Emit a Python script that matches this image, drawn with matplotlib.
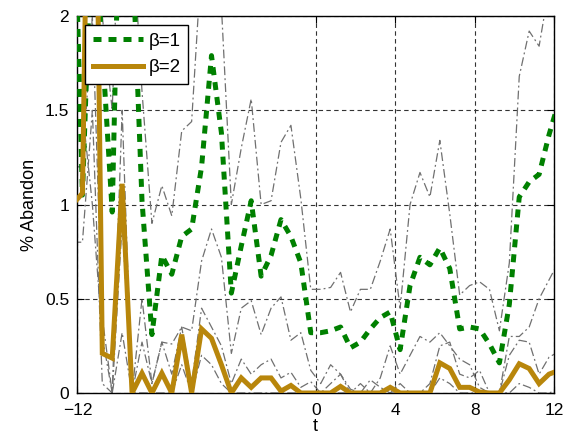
import numpy as np
import matplotlib
matplotlib.use("Agg")
import matplotlib.pyplot as plt

plt.rcParams['font.family'] = ['Liberation Sans', 'DejaVu Sans']

# time grid (points lie on quarter offsets; end points fall outside the axis)
t = [-12.25 + 0.5 * k for k in range(50)]

beta1 = [3.0, 1.05, 2.6, 1.83, 0.96, 3.3, 2.4, 1.02, 0.31, 0.73,
         0.63, 0.83, 0.87, 1.2, 1.79, 1.38, 0.53, 0.78, 1.02, 0.62,
         0.73, 0.92, 0.83, 0.69, 0.32, 0.32, 0.33, 0.35, 0.24, 0.27,
         0.34, 0.40, 0.43, 0.23, 0.57, 0.72, 0.68, 0.77, 0.66, 0.34,
         0.35, 0.34, 0.26, 0.16, 0.47, 1.04, 1.12, 1.16, 1.37, 1.55]

beta2 = [1.0, 1.06, 4.5, 0.21, 0.185, 1.11, 0.0, 0.105, 0.0, 0.105,
         0.0, 0.31, 0.0, 0.34, 0.29, 0.15, 0.0, 0.08, 0.03, 0.08,
         0.08, 0.01, 0.04, 0.0, 0.0, 0.0, 0.0, 0.035, 0.0, 0.0,
         0.0, 0.0, 0.03, 0.0, 0.0, 0.0, 0.0, 0.16, 0.13, 0.03,
         0.03, 0.005, 0.0, 0.0, 0.07, 0.155, 0.13, 0.05, 0.1, 0.12]

upper1 = [2.8, 2.8, 2.8, 2.0, 1.5, 3.0, 2.5, 1.6, 0.9, 1.1,
          0.94, 1.39, 1.44, 2.3, 2.6, 2.05, 1.0, 1.3, 1.56, 1.0,
          1.02, 1.33, 1.42, 1.03, 0.55, 0.55, 0.56, 0.64, 0.43, 0.55,
          0.55, 0.7, 0.87, 0.45, 1.0, 1.17, 1.04, 1.34, 0.95, 0.52,
          0.57, 0.59, 0.55, 0.33, 0.69, 1.68, 1.92, 1.84, 2.15, 2.4]

lower1 = [1.5, 1.5, 1.0, 0.3, 0.0, 1.5, 0.0, 0.5, 0.05, 0.27,
          0.26, 0.35, 0.33, 0.7, 0.87, 0.72, 0.21, 0.45, 0.49, 0.31,
          0.45, 0.51, 0.28, 0.32, 0.12, 0.05, 0.15, 0.1, 0.0, 0.05,
          0.0, 0.08, 0.25, 0.1, 0.2, 0.3, 0.27, 0.32, 0.25, 0.18,
          0.15, 0.03, 0.0, 0.0, 0.3, 0.3, 0.35, 0.5, 0.6, 0.7]

upper2 = [1.2, 1.2, 2.0, 0.4, 0.0, 0.32, 0.0, 0.27, 0.05, 0.27,
          0.1, 0.35, 0.05, 0.45, 0.35, 0.25, 0.05, 0.18, 0.1, 0.15,
          0.18, 0.08, 0.11, 0.03, 0.06, 0.0, 0.05, 0.1, 0.02, 0.0,
          0.07, 0.03, 0.0, 0.05, 0.0, 0.0, 0.05, 0.25, 0.27, 0.1,
          0.08, 0.12, 0.0, 0.0, 0.2, 0.28, 0.27, 0.1, 0.19, 0.22]

lower2 = [0.8, 0.8, 1.5, 0.05, 0.0, 0.9, 0.0, 0.0, 0.0, 0.0,
          0.0, 0.15, 0.0, 0.2, 0.15, 0.05, 0.0, 0.0, 0.0, 0.0,
          0.0, 0.0, 0.0, 0.0, 0.0, 0.0, 0.0, 0.0, 0.0, 0.0,
          0.0, 0.0, 0.0, 0.0, 0.0, 0.0, 0.0, 0.08, 0.05, 0.0,
          0.0, 0.0, 0.0, 0.0, 0.0, 0.05, 0.03, 0.0, 0.0, 0.02]

xticks = [-12, 0, 4, 8, 12]
xticklabels = ['\u221212', '0', '4', '8', '12']
yticks = [0, 0.5, 1, 1.5, 2]
yticklabels = ['0', '0.5', '1', '1.5', '2']

fig = plt.figure(figsize=(5.76, 4.4), dpi=100)
ax = fig.add_axes([0.1345, 0.1068, 0.8273, 0.8568])

gray = '#707070'
for band in (upper1, lower1, upper2, lower2):
    ax.plot(t, band, color=gray, lw=0.9, linestyle=(0, (7, 2.5, 1.5, 2.5)), zorder=2)

ax.plot(t, beta1, color='#008000', lw=3.6, linestyle=(0, (1.6, 1.4)),
        label='β=1', zorder=4, dash_capstyle='butt')
ax.plot(t, beta2, color='#B8860B', lw=3.6, label='β=2', zorder=5,
        solid_joinstyle='miter')

ax.set_xlim(-12, 12)
ax.set_ylim(0, 2)
ax.set_xticks(xticks)
ax.set_xticklabels(xticklabels)
ax.set_yticks(yticks)
ax.set_yticklabels(yticklabels)
ax.tick_params(direction='in', length=5, width=0.8, labelsize=12.5,
               top=True, right=True)
ax.tick_params(axis='x', pad=7)
ax.tick_params(axis='y', pad=6)
ax.grid(True, color='#333333', linestyle=(0, (4, 3)), lw=0.8)
for s in ax.spines.values():
    s.set_linewidth(1.0)
    s.set_color('black')

ax.set_xlabel('t', fontsize=13, labelpad=0)
ax.set_ylabel('% Abandon', fontsize=13, labelpad=5)

leg = ax.legend(loc='upper left', bbox_to_anchor=(0.016, 0.976),
                borderaxespad=0, fontsize=13.5, handlelength=2.7,
                fancybox=False, framealpha=1, edgecolor='black',
                borderpad=0.4, labelspacing=0.5, handletextpad=0.3)
leg.set_zorder(10)
leg.get_frame().set_linewidth(1.0)

fig.savefig('out.png', dpi=100)
